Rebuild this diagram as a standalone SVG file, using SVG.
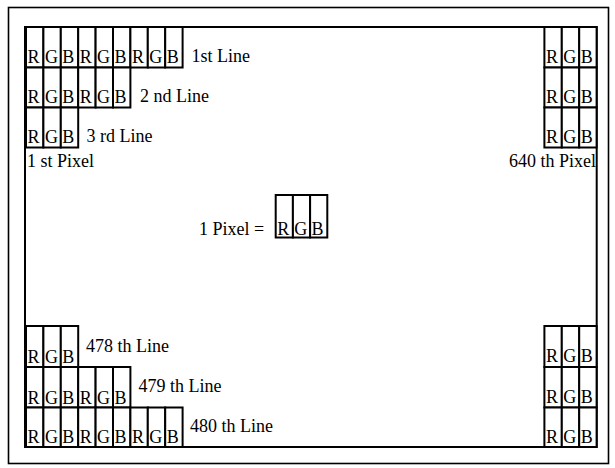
<svg xmlns="http://www.w3.org/2000/svg" width="615" height="468" viewBox="0 0 615 468">
<style>
.frame{fill:none;stroke:#000;stroke-width:1.6}
.inner{fill:none;stroke:#000;stroke-width:2}
.c{fill:#fff;stroke:#000;stroke-width:2}
text{font-family:"Liberation Serif","Times New Roman",serif;font-size:18px;fill:#000}
</style>
<rect width="615" height="468" fill="#fff"/>
<rect class="frame" x="8.5" y="7.5" width="600" height="456"/>
<rect class="inner" x="25" y="27" width="571.7" height="420"/>

<g id="line1">
<rect class="c" x="26" y="27" width="17.4" height="40.5"/><text x="27.5" y="62.5">R</text>
<rect class="c" x="43.4" y="27" width="17.4" height="40.5"/><text x="44.9" y="62.5">G</text>
<rect class="c" x="60.8" y="27" width="17.4" height="40.5"/><text x="62.3" y="62.5">B</text>
<rect class="c" x="78.2" y="27" width="17.4" height="40.5"/><text x="79.7" y="62.5">R</text>
<rect class="c" x="95.6" y="27" width="17.4" height="40.5"/><text x="97.1" y="62.5">G</text>
<rect class="c" x="113" y="27" width="17.4" height="40.5"/><text x="114.5" y="62.5">B</text>
<rect class="c" x="130.4" y="27" width="17.4" height="40.5"/><text x="131.9" y="62.5">R</text>
<rect class="c" x="147.8" y="27" width="17.4" height="40.5"/><text x="149.3" y="62.5">G</text>
<rect class="c" x="165.2" y="27" width="17.4" height="40.5"/><text x="166.7" y="62.5">B</text>
<text x="191.5" y="62">1st Line</text>
</g>
<g id="line2">
<rect class="c" x="26" y="67.5" width="17.4" height="40"/><text x="27.5" y="102.5">R</text>
<rect class="c" x="43.4" y="67.5" width="17.4" height="40"/><text x="44.9" y="102.5">G</text>
<rect class="c" x="60.8" y="67.5" width="17.4" height="40"/><text x="62.3" y="102.5">B</text>
<rect class="c" x="78.2" y="67.5" width="17.4" height="40"/><text x="79.7" y="102.5">R</text>
<rect class="c" x="95.6" y="67.5" width="17.4" height="40"/><text x="97.1" y="102.5">G</text>
<rect class="c" x="113" y="67.5" width="17.4" height="40"/><text x="114.5" y="102.5">B</text>
<text x="140" y="102">2 nd Line</text>
</g>
<g id="line3">
<rect class="c" x="26" y="107.5" width="17.4" height="40"/><text x="27.5" y="142.5">R</text>
<rect class="c" x="43.4" y="107.5" width="17.4" height="40"/><text x="44.9" y="142.5">G</text>
<rect class="c" x="60.8" y="107.5" width="17.4" height="40"/><text x="62.3" y="142.5">B</text>
<text x="86.5" y="142">3 rd Line</text>
</g>
<g id="first-pixel"><text x="27" y="167">1 st Pixel</text></g>

<g id="right-top">
<rect class="c" x="544.4" y="27" width="17.4" height="40.5"/><text x="545.9" y="62.5">R</text>
<rect class="c" x="561.8" y="27" width="17.4" height="40.5"/><text x="563.3" y="62.5">G</text>
<rect class="c" x="579.2" y="27" width="17.4" height="40.5"/><text x="580.7" y="62.5">B</text>
<rect class="c" x="544.4" y="67.5" width="17.4" height="40"/><text x="545.9" y="102.5">R</text>
<rect class="c" x="561.8" y="67.5" width="17.4" height="40"/><text x="563.3" y="102.5">G</text>
<rect class="c" x="579.2" y="67.5" width="17.4" height="40"/><text x="580.7" y="102.5">B</text>
<rect class="c" x="544.4" y="107.5" width="17.4" height="40"/><text x="545.9" y="142.5">R</text>
<rect class="c" x="561.8" y="107.5" width="17.4" height="40"/><text x="563.3" y="142.5">G</text>
<rect class="c" x="579.2" y="107.5" width="17.4" height="40"/><text x="580.7" y="142.5">B</text>
</g>
<g id="last-pixel"><text x="596" y="167" text-anchor="end">640 th Pixel</text></g>

<g id="pixel-legend">
<text x="199" y="235">1 Pixel =</text>
<rect class="c" x="275.7" y="195" width="17.2" height="42.5"/><text x="277.2" y="234.5">R</text>
<rect class="c" x="292.9" y="195" width="17.2" height="42.5"/><text x="294.2" y="234.5">G</text>
<rect class="c" x="310.1" y="195" width="17.2" height="42.5"/><text x="311.6" y="234.5">B</text>
</g>

<g id="line478">
<rect class="c" x="26" y="326" width="17.4" height="41"/><text x="27.5" y="363">R</text>
<rect class="c" x="43.4" y="326" width="17.4" height="41"/><text x="44.9" y="363">G</text>
<rect class="c" x="60.8" y="326" width="17.4" height="41"/><text x="62.3" y="363">B</text>
<text x="86" y="352">478 th Line</text>
</g>
<g id="line479">
<rect class="c" x="26" y="367" width="17.4" height="40.5"/><text x="27.5" y="403.5">R</text>
<rect class="c" x="43.4" y="367" width="17.4" height="40.5"/><text x="44.9" y="403.5">G</text>
<rect class="c" x="60.8" y="367" width="17.4" height="40.5"/><text x="62.3" y="403.5">B</text>
<rect class="c" x="78.2" y="367" width="17.4" height="40.5"/><text x="79.7" y="403.5">R</text>
<rect class="c" x="95.6" y="367" width="17.4" height="40.5"/><text x="97.1" y="403.5">G</text>
<rect class="c" x="113" y="367" width="17.4" height="40.5"/><text x="114.5" y="403.5">B</text>
<text x="138.5" y="392">479 th Line</text>
</g>
<g id="line480">
<rect class="c" x="26" y="407.5" width="17.4" height="39.5"/><text x="27.5" y="443">R</text>
<rect class="c" x="43.4" y="407.5" width="17.4" height="39.5"/><text x="44.9" y="443">G</text>
<rect class="c" x="60.8" y="407.5" width="17.4" height="39.5"/><text x="62.3" y="443">B</text>
<rect class="c" x="78.2" y="407.5" width="17.4" height="39.5"/><text x="79.7" y="443">R</text>
<rect class="c" x="95.6" y="407.5" width="17.4" height="39.5"/><text x="97.1" y="443">G</text>
<rect class="c" x="113" y="407.5" width="17.4" height="39.5"/><text x="114.5" y="443">B</text>
<rect class="c" x="130.4" y="407.5" width="17.4" height="39.5"/><text x="131.9" y="443">R</text>
<rect class="c" x="147.8" y="407.5" width="17.4" height="39.5"/><text x="149.3" y="443">G</text>
<rect class="c" x="165.2" y="407.5" width="17.4" height="39.5"/><text x="166.7" y="443">B</text>
<text x="190" y="432">480 th Line</text>
</g>

<g id="right-bottom">
<rect class="c" x="544.4" y="326" width="17.4" height="41"/><text x="545.9" y="362">R</text>
<rect class="c" x="561.8" y="326" width="17.4" height="41"/><text x="563.3" y="362">G</text>
<rect class="c" x="579.2" y="326" width="17.4" height="41"/><text x="580.7" y="362">B</text>
<rect class="c" x="544.4" y="367" width="17.4" height="40.5"/><text x="545.9" y="402.5">R</text>
<rect class="c" x="561.8" y="367" width="17.4" height="40.5"/><text x="563.3" y="402.5">G</text>
<rect class="c" x="579.2" y="367" width="17.4" height="40.5"/><text x="580.7" y="402.5">B</text>
<rect class="c" x="544.4" y="407.5" width="17.4" height="39.5"/><text x="545.9" y="442.5">R</text>
<rect class="c" x="561.8" y="407.5" width="17.4" height="39.5"/><text x="563.3" y="442.5">G</text>
<rect class="c" x="579.2" y="407.5" width="17.4" height="39.5"/><text x="580.7" y="442.5">B</text>
</g>
</svg>
